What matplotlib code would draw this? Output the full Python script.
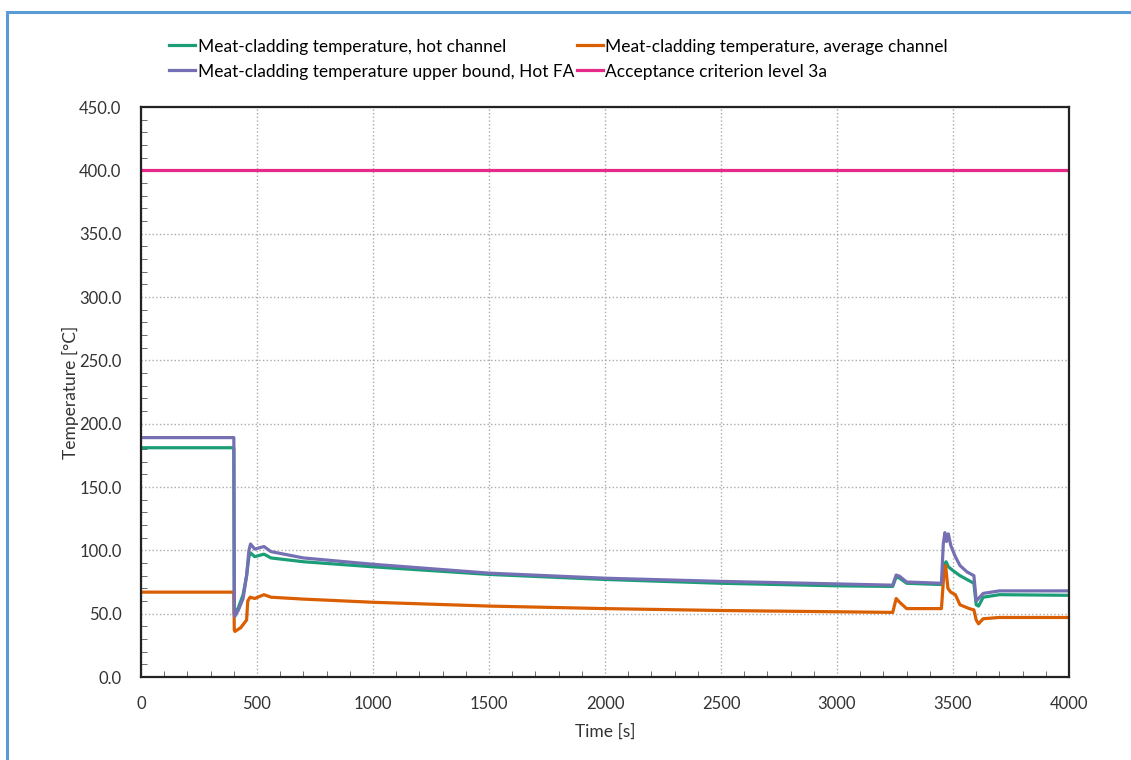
import numpy as np
import matplotlib.pyplot as plt
from matplotlib.patches import Rectangle
from matplotlib.ticker import MultipleLocator, FormatStrFormatter

plt.rcParams['font.family'] = ['Lato', 'DejaVu Sans']

# Meat-cladding temperature, hot channel
t_hot = [0, 400, 402, 405, 420, 440, 455, 465, 472, 490, 530, 560, 700, 1000, 1500, 2000,
         2500, 3000, 3240, 3255, 3270, 3300, 3450, 3460, 3470, 3480, 3500, 3530, 3560, 3590,
         3600, 3610, 3630, 3700, 4000]
T_hot = [181, 181, 50, 50, 55, 65, 80, 95, 98, 95, 97, 94, 91, 87, 81, 77,
         74, 72, 71.5, 79, 78, 74, 73, 88, 91, 87, 84, 80, 77, 74,
         57, 56, 63, 65, 64.5]

# Meat-cladding temperature, average channel
t_avg = [0, 400, 402, 405, 430, 455, 460, 470, 490, 530, 560, 700, 1000, 1500, 2000,
         2500, 3000, 3240, 3255, 3270, 3300, 3450, 3460, 3468, 3478, 3490, 3510, 3530, 3570,
         3590, 3600, 3610, 3630, 3700, 4000]
T_avg = [67, 67, 37, 36, 39, 45, 60, 63, 62, 65, 63, 61.5, 59, 56, 54,
         52.5, 51.5, 51, 62, 59, 54, 54, 80, 88, 70, 67, 65, 57, 54,
         53, 45, 42, 46, 47, 47]

# Meat-cladding temperature upper bound, Hot FA
t_up = [0, 400, 402, 405, 420, 440, 455, 465, 472, 490, 530, 560, 700, 1000, 1500, 2000,
        2500, 3000, 3240, 3255, 3270, 3300, 3450, 3458, 3465, 3472, 3480, 3490, 3510, 3530,
        3560, 3590, 3600, 3610, 3630, 3700, 4000]
T_up = [189, 189, 49, 48, 53, 62, 80, 100, 105, 101, 103, 99, 94, 89, 82, 78,
        75.5, 73.5, 72.5, 80.5, 79.5, 75, 74, 105, 114, 107, 113, 104, 95, 88,
        83, 80, 60, 62, 66, 68, 68]

# Acceptance criterion level 3a
t_acc = [0, 4000]
T_acc = [400, 400]

fig = plt.figure(figsize=(11.31, 7.6), dpi=100)
ax = fig.add_axes([0.1247, 0.1092, 0.8205, 0.75])

l_hot, = ax.plot(t_hot, T_hot, color='#1b9e77', lw=2.3, label='Meat-cladding temperature, hot channel')
l_avg, = ax.plot(t_avg, T_avg, color='#d95f02', lw=2.3, label='Meat-cladding temperature, average channel')
l_up, = ax.plot(t_up, T_up, color='#7570b3', lw=2.3, label='Meat-cladding temperature upper bound, Hot FA')
l_acc, = ax.plot(t_acc, T_acc, color='#e7298a', lw=2.3, label='Acceptance criterion level 3a')

ax.set_xlim(0, 4000)
ax.set_ylim(0, 450)
ax.xaxis.set_major_locator(MultipleLocator(500))
ax.xaxis.set_minor_locator(MultipleLocator(100))
ax.yaxis.set_major_locator(MultipleLocator(50))
ax.yaxis.set_minor_locator(MultipleLocator(10))
ax.yaxis.set_major_formatter(FormatStrFormatter('%.1f'))
ax.tick_params(which='both', direction='in', top=False, right=False, colors='#333333')
ax.tick_params(which='major', length=0, labelsize=12)
ax.tick_params(axis='x', which='major', pad=14)
ax.tick_params(axis='y', which='major', pad=14)
ax.tick_params(which='minor', length=4, color='#555555')
ax.grid(True, which='major', color='#aaaaaa', ls=':', lw=1)
for s in ax.spines.values():
    s.set_linewidth(1.6)
    s.set_color('#222222')

ax.set_xlabel('Time [s]', fontsize=12.5, color='#333333', labelpad=8)
ax.set_ylabel('Temperature [°C]', fontsize=12.5, color='#333333', labelpad=0)

ax.legend(handles=[l_hot, l_up, l_avg, l_acc], loc='lower left', bbox_to_anchor=(0.0226, 1.036),
          ncol=2, frameon=False, fontsize=12.5, handlelength=1.5, handletextpad=0.15,
          columnspacing=0.15, labelspacing=0.52, borderaxespad=0)

fig.add_artist(Rectangle((0.0062, -0.05), 1.1, 1.034, transform=fig.transFigure,
                         fill=False, edgecolor='#5b9bd5', lw=2.2))

fig.savefig('out.png', dpi=100)
